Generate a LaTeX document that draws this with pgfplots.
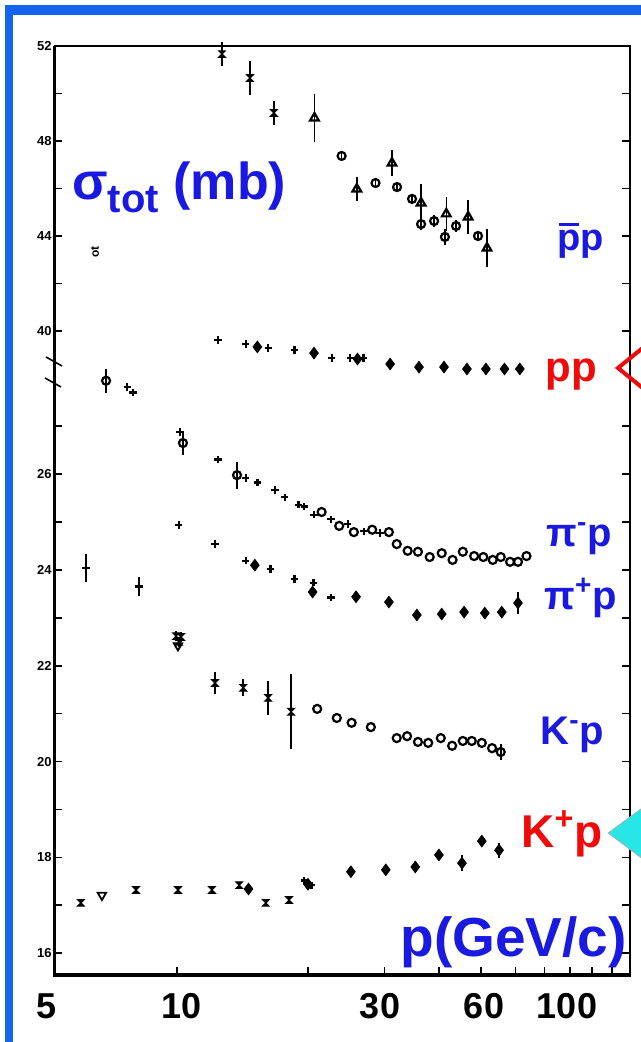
\documentclass[border=0pt]{standalone}
\usepackage{fontspec}
\setmainfont{Liberation Sans}
\usepackage{pgfplots}
\pgfplotsset{compat=1.18}
\definecolor{frameblue}{RGB}{20,100,240}
\definecolor{labblue}{RGB}{25,25,225}
\definecolor{labred}{RGB}{240,10,10}
\definecolor{tricyan}{RGB}{40,230,230}

% filled hourglass mark, as on the old scan
\pgfdeclareplotmark{hourglass}{%
  \pgfpathmoveto{\pgfqpoint{-\pgfplotmarksize}{\pgfplotmarksize}}%
  \pgfpathlineto{\pgfqpoint{\pgfplotmarksize}{\pgfplotmarksize}}%
  \pgfpathlineto{\pgfqpoint{-\pgfplotmarksize}{-\pgfplotmarksize}}%
  \pgfpathlineto{\pgfqpoint{\pgfplotmarksize}{-\pgfplotmarksize}}%
  \pgfpathclose
  \pgfusepathqfillstroke}

\pgfplotsset{
  cr/.style={only marks, mark=+, mark size=1.8pt, line width=1.3pt, black},
  oc/.style={only marks, mark=o, mark size=2pt, line width=1.1pt, black},
  fd/.style={only marks, mark=diamond*, mark size=2.9pt, black},
  otri/.style={only marks, mark=triangle, mark size=2.5pt, line width=1.1pt, black},
  dtri/.style={only marks, mark=triangle, mark options={rotate=180}, mark size=2.4pt, line width=0.9pt, black},
  hg/.style={only marks, mark=hourglass, mark size=1.6pt, line width=0.6pt, black},
  eb/.style={error bars/.cd, y dir=both, y explicit, error mark=none,
    error bar style={line width=0.8pt, black}},
  sigaxis/.style={
    scale only axis, anchor=south west, width=288pt,
    xmin=5.215, xmax=110.0,
    axis line style={draw=none}, clip=false,
    tick style={black, line width=0.8pt},
    major tick length=4pt, minor tick length=4pt,
    yticklabel style={font=\fontsize{6.5}{7}\selectfont\bfseries, inner xsep=1pt},
  },
}

\begin{document}
\begin{tikzpicture}
\path[use as bounding box] (0,0) rectangle (320.5pt,521pt);
\clip (0,0) rectangle (320.5pt,521pt);
\fill[white] (0,0) rectangle (320.5pt,521pt);
\begin{scope}[x=0.5pt,y=-0.5pt,shift={(0pt,521pt)}]
  \fill[frameblue] (5,5) rectangle (650,1050);
  \fill[white] (13,15) rectangle (650,1050);
\end{scope}

% upper part: 38-52 mb
\begin{axis}[xmode=log, sigaxis, at={(27pt,333.5pt)}, height=164.5pt,
  ymin=38.147, ymax=52,
  xtick=\empty,
  ytick={40,44,48,52}, minor ytick={42,46,50},
  /pgf/number format/assume math mode=true,
]
% pbar p
\addplot[hg, eb] coordinates {
  (12.69,51.66) +- (0,0.5) (14.71,50.65) +- (0,0.7) (16.7,49.18) +- (0,0.5)};
\addplot[otri, eb] coordinates {
  (20.7,48.97) +- (0,1.0) (25.9,45.98) +- (0,0.5) (31.2,47.07) +- (0,0.55)
  (36.4,45.39) +- (0,0.8) (41.6,44.93) +- (0,0.7) (46.7,44.8) +- (0,0.7)
  (51.6,43.49) +- (0,0.8)};
\addplot[oc, eb] coordinates {
  (23.9,47.37) +- (0,0.2) (28.6,46.23) +- (0,0.2) (32.05,46.06) +- (0,0.2)
  (34.7,45.56) +- (0,0.2) (36.4,44.5) +- (0,0.25) (39.0,44.63) +- (0,0.25)
  (41.3,43.96) +- (0,0.35) (43.8,44.42) +- (0,0.25) (49.2,44.0) +- (0,0.2)};
% pp
\addplot[cr] coordinates {
  (12.42,39.62) (14.4,39.45) (16.2,39.28) (18.6,39.2) (22.7,38.86) (25.0,38.86) (26.8,38.86)};
\addplot[fd] coordinates {
  (15.3,39.33) (20.65,39.07) (26.0,38.82) (30.9,38.61) (36.0,38.48)
  (41.1,38.48) (46.4,38.4) (51.3,38.4) (56.6,38.4) (61.4,38.4)};
\end{axis}

% lower part: 15.5-28 mb
\begin{axis}[xmode=log, sigaxis, at={(27pt,33.5pt)}, height=300pt,
  ymin=15.545, ymax=28.07,
  xtick={10,20,30,40,50,60,70,80,90,100}, xticklabels={}, xtick pos=bottom,
  minor xtick={},
  ytick={16,18,20,22,24,26}, minor ytick={17,19,21,23,25,27},
  /pgf/number format/assume math mode=true,
]
% pi- p
\addplot[cr] coordinates {
  (7.68,27.82) (7.92,27.7) (10.16,26.88) (12.42,26.3) (14.4,25.92) (15.3,25.82)
  (16.8,25.67) (17.7,25.52) (19.0,25.36) (19.6,25.32) (20.65,25.15) (22.6,25.06)
  (24.7,24.96) (26.9,24.81) (29.3,24.77)};
\addplot[oc, eb] coordinates {
  (6.87,27.95) +- (0,0.25) (10.32,26.65) +- (0,0.25) (13.74,25.98) +- (0,0.28)
  (21.5,25.21) +- (0,0) (23.6,24.92) +- (0,0) (25.5,24.79) +- (0,0)
  (28.1,24.84) +- (0,0) (30.7,24.79) +- (0,0) (32.0,24.54) +- (0,0)
  (33.9,24.4) +- (0,0) (35.8,24.38) +- (0,0) (38.1,24.27) +- (0,0)
  (40.6,24.35) +- (0,0) (43.0,24.21) +- (0,0) (45.4,24.38) +- (0,0)
  (48.2,24.29) +- (0,0) (50.6,24.27) +- (0,0) (53.2,24.21) +- (0,0)
  (55.5,24.27) +- (0,0) (58.3,24.17) +- (0,0) (60.8,24.17) +- (0,0)
  (63.6,24.29) +- (0,0)};
% pi+ p
\addplot[cr, eb] coordinates {
  (6.18,24.04) +- (0,0.3) (8.18,23.65) +- (0,0.2) (10.1,24.94) +- (0,0)
  (12.23,24.54) +- (0,0) (14.4,24.19) +- (0,0) (16.4,24.02) +- (0,0)
  (18.6,23.81) +- (0,0) (20.6,23.73) +- (0,0) (22.6,23.42) +- (0,0)};
\addplot[fd, eb] coordinates {
  (15.1,24.1) +- (0,0) (20.5,23.54) +- (0,0) (25.8,23.44) +- (0,0)
  (30.7,23.33) +- (0,0) (35.6,23.06) +- (0,0) (40.6,23.08) +- (0,0)
  (45.7,23.12) +- (0,0) (51.0,23.1) +- (0,0) (55.8,23.12) +- (0,0)
  (60.8,23.31) +- (0,0.22)};
% K- p
\addplot[hg, eb] coordinates {
  (9.95,22.62) +- (0,0.1) (10.1,22.5) +- (0,0.1) (10.22,22.6) +- (0,0.1)
  (12.23,21.64) +- (0,0.22) (14.2,21.54) +- (0,0.18) (16.2,21.33) +- (0,0.35)
  (18.3,21.04) +- (0,0.78)};
\addplot[dtri] coordinates {(10.05,22.42)};
\addplot[oc, eb] coordinates {
  (21.0,21.1) +- (0,0) (23.3,20.91) +- (0,0) (25.2,20.81) +- (0,0)
  (27.9,20.72) +- (0,0) (32.0,20.49) +- (0,0) (33.8,20.53) +- (0,0)
  (35.8,20.41) +- (0,0) (37.8,20.39) +- (0,0) (40.4,20.49) +- (0,0)
  (42.9,20.33) +- (0,0) (45.4,20.43) +- (0,0) (47.6,20.43) +- (0,0)
  (50.2,20.39) +- (0,0) (53.0,20.28) +- (0,0) (55.5,20.2) +- (0,0.16)};
% K+ p
\addplot[hg] coordinates {
  (6.01,17.05) (8.05,17.32) (10.05,17.32) (12.03,17.32) (13.9,17.42)
  (16.0,17.05) (18.1,17.11)};
\addplot[dtri] coordinates {(6.72,17.21)};
\addplot[cr] coordinates {(19.6,17.52) (20.4,17.42)};
\addplot[fd, eb] coordinates {
  (14.6,17.34) +- (0,0) (20.0,17.44) +- (0,0) (25.1,17.7) +- (0,0)
  (30.2,17.74) +- (0,0) (35.3,17.8) +- (0,0) (40.0,18.05) +- (0,0)
  (45.2,17.88) +- (0,0.16) (50.2,18.34) +- (0,0) (55.0,18.15) +- (0,0.16)};
\end{axis}

\begin{scope}[x=0.5pt,y=-0.5pt,shift={(0pt,521pt)}]
  % frame of the old plot
  \draw[line width=1.4pt] (54,46) -- (630,46) -- (630,975);
  \draw[line width=1.5pt] (54,46) -- (54,975);
  \draw[line width=2pt] (53,975) -- (631,975);
  % axis break
  \draw[line width=0.8pt] (46,357) -- (62,366);
  \draw[line width=0.8pt] (45,378) -- (61,387);
  \node[rotate=90, inner sep=0, font=\fontsize{6}{6}\selectfont\bfseries] at (95,252) {ot};
  % overlay labels
  \begin{scope}[every node/.style={inner sep=0, anchor=base west, font=\bfseries}]
    \node[labblue, font=\fontsize{26}{26}\selectfont\bfseries] at (72,200)
      {σ\raisebox{-0.24em}{\fontsize{20}{20}\selectfont tot} (mb)};
    \node[labblue, font=\fontsize{19}{19}\selectfont\bfseries] at (557,251)
      {\rlap{\hspace{0.04em}\rule[0.66em]{0.54em}{0.085em}}pp};
    \node[labred, font=\fontsize{21}{21}\selectfont\bfseries] at (545,382) {pp};
    \node[labblue, font=\fontsize{20}{20}\selectfont\bfseries] at (546,547) {π\textsuperscript{-}p};
    \node[labblue, font=\fontsize{20}{20}\selectfont\bfseries] at (544,610) {π\textsuperscript{+}p};
    \node[labblue, font=\fontsize{20}{20}\selectfont\bfseries] at (540,745) {K\textsuperscript{-}p};
    \node[labred, font=\fontsize{23}{23}\selectfont\bfseries] at (521,848) {K\textsuperscript{+}p};
    \node[labblue, font=\fontsize{27.5}{27.5}\selectfont\bfseries] at (400,957) {p(GeV/c)};
  \end{scope}
  \begin{scope}[every node/.style={inner sep=0, anchor=base, font=\fontsize{18}{18}\selectfont\bfseries}]
    \node at (47,1018) {5};
    \node at (182,1018) {10};
    \node at (380,1018) {30};
    \node at (484,1018) {60};
    \node at (567,1018) {100};
  \end{scope}
  % markers at the right edge
  \draw[labred, line width=2pt] (650,342) -- (618,368) -- (650,394);
  \fill[tricyan, draw=gray!60, line width=0.4pt] (660,795) -- (608,833) -- (660,872) -- cycle;
\end{scope}
\end{tikzpicture}
\end{document}
